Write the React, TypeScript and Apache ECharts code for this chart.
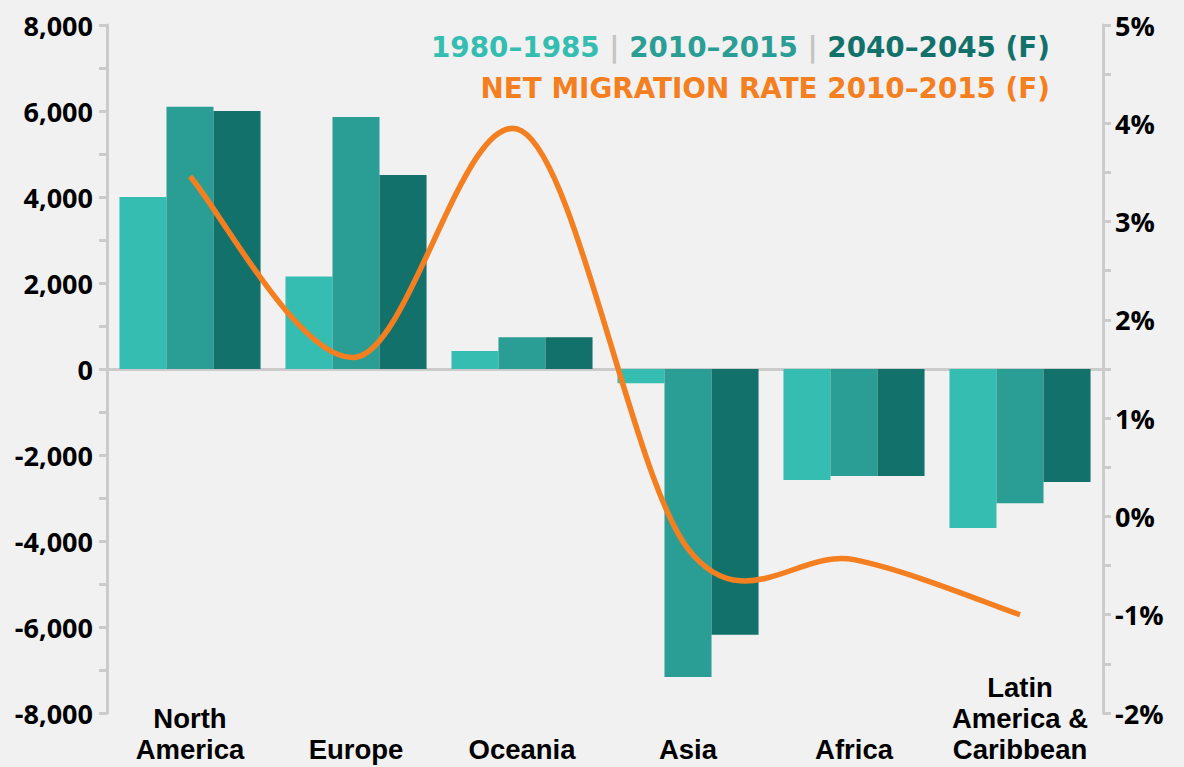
import React, { useEffect, useRef } from "react";
import * as echarts from "echarts";

const categories = ["North\nAmerica", "Europe", "Oceania", "Asia", "Africa", "Latin\nAmerica &\nCaribbean"];
const series1980 = [4000, 2150, 420, -330, -2580, -3700];
const series2010 = [6100, 5860, 740, -7160, -2490, -3120];
const series2040 = [6000, 4510, 740, -6180, -2490, -2630];
const netRate = [3.46, 1.62, 3.92, -0.33, -0.44, -1.0];

const leftTicks = { min: -8000, max: 8000, interval: 2000 };
const rightTicks = { min: -2, max: 5, interval: 1 };

const C1 = "#36BDB1";
const C2 = "#2A9E94";
const C3 = "#12716A";
const ORANGE = "#F47F21";
const AXIS = "#CBCBCB";
const BG = "#F1F1F1";
const FONT = "'Open Sans', Lato, sans-serif";
const CAT_FONT = "'Liberation Sans', Arial, sans-serif";
const LEGEND_FONT = "'DejaVu Sans', 'Open Sans', sans-serif";
const LEGEND_SIZE = 27.8;

export default function App() {
  const ref = useRef<HTMLDivElement>(null);
  useEffect(() => {
    document.body.style.margin = "0";
    document.body.style.background = BG;
    const chart = echarts.init(ref.current!, null, { renderer: "svg" });
    const n = netRate.length;
    const axisLabelStyle = {
      color: "#000",
      fontFamily: FONT,
      fontWeight: "bold",
      fontSize: 27,
    };
    const option: any = {
      animation: false,
      backgroundColor: BG,
      textStyle: { fontFamily: FONT },
      grid: { left: 107, right: 81, top: 25, bottom: 54, containLabel: false },
      xAxis: [
        {
          type: "category",
          data: categories,
          axisLine: { show: true, onZero: true, onZeroAxisIndex: 0, lineStyle: { color: AXIS, width: 3 } },
          axisTick: { show: false },
          axisLabel: { show: false },
          splitLine: { show: false },
        },
        {
          type: "category",
          data: categories,
          position: "bottom",
          axisLine: { show: false, onZero: false },
          axisTick: { show: false },
          splitLine: { show: false },
          axisLabel: {
            color: "#000",
            fontFamily: CAT_FONT,
            fontWeight: "bold",
            fontSize: 27.5,
            show: true,
            interval: 0,
            lineHeight: 31,
            verticalAlign: "bottom",
            margin: 52,
          },
        },
      ],
      yAxis: [
        {
          type: "value",
          min: leftTicks.min,
          max: leftTicks.max,
          interval: leftTicks.interval,
          position: "left",
          axisLine: { show: true, lineStyle: { color: AXIS, width: 3 } },
          axisTick: { show: true, length: 8, lineStyle: { color: AXIS, width: 3 } },
          minorTick: { show: true, splitNumber: 2, length: 8, lineStyle: { color: AXIS, width: 3 } },
          splitLine: { show: false },
          axisLabel: {
            ...axisLabelStyle,
            margin: 14,
            formatter: (v: number) => v.toLocaleString("en-US"),
          },
        },
        {
          type: "value",
          min: rightTicks.min,
          max: rightTicks.max,
          interval: rightTicks.interval,
          position: "right",
          axisLine: { show: true, lineStyle: { color: AXIS, width: 3 } },
          axisTick: { show: true, length: 8, lineStyle: { color: AXIS, width: 3 } },
          minorTick: { show: true, splitNumber: 2, length: 8, lineStyle: { color: AXIS, width: 3 } },
          splitLine: { show: false },
          axisLabel: {
            ...axisLabelStyle,
            margin: 12,
            formatter: (v: number) => v + "%",
          },
        },
      ],
      series: [
        { type: "bar", name: "1980–1985", data: series1980, xAxisIndex: 0, yAxisIndex: 0, barGap: "0%", barCategoryGap: "15%", itemStyle: { color: C1 } },
        { type: "bar", name: "2010–2015", data: series2010, xAxisIndex: 0, yAxisIndex: 0, barGap: "0%", barCategoryGap: "15%", itemStyle: { color: C2 } },
        { type: "bar", name: "2040–2045 (F)", data: series2040, xAxisIndex: 0, yAxisIndex: 0, barGap: "0%", barCategoryGap: "15%", itemStyle: { color: C3 } },
        {
          type: "custom",
          name: "Net migration rate",
          xAxisIndex: 0,
          yAxisIndex: 1,
          data: netRate.map((v, i) => [i, v]),
          encode: { x: 0, y: 1 },
          z: 10,
          renderItem: (params: any, api: any) => {
            if (params.dataIndex !== 0) return { type: "group", children: [] };
            const pt = (k: number) => {
              const j = Math.max(0, Math.min(n - 1, k));
              return api.coord([j, netRate[j]]);
            };
            const p0 = pt(0);
            let d = `M${p0[0]},${p0[1]}`;
            for (let i = 0; i < n - 1; i++) {
              const a = pt(i - 1), b = pt(i), c = pt(i + 1), e = pt(i + 2);
              const c1x = b[0] + (c[0] - a[0]) / 6, c1y = b[1] + (c[1] - a[1]) / 6;
              const c2x = c[0] - (e[0] - b[0]) / 6, c2y = c[1] - (e[1] - b[1]) / 6;
              d += ` C${c1x},${c1y} ${c2x},${c2y} ${c[0]},${c[1]}`;
            }
            return {
              type: "path",
              shape: { pathData: d },
              style: { stroke: ORANGE, lineWidth: 5.5, fill: "none" },
            };
          },
        },
      ],
      graphic: [
        {
          type: "text",
          x: 1050,
          y: 47,
          style: {
            text: "{a|1980–1985} {s||} {b|2010–2015} {s||} {c|2040–2045 (F)}",
            align: "right",
            verticalAlign: "middle",
            font: `bold ${LEGEND_SIZE}px ${LEGEND_FONT}`,
            rich: {
              a: { fill: C1, fontFamily: LEGEND_FONT, fontWeight: "bold", fontSize: LEGEND_SIZE },
              b: { fill: C2, fontFamily: LEGEND_FONT, fontWeight: "bold", fontSize: LEGEND_SIZE },
              c: { fill: C3, fontFamily: LEGEND_FONT, fontWeight: "bold", fontSize: LEGEND_SIZE },
              s: { fill: "#C4C4C4", fontFamily: LEGEND_FONT, fontWeight: "bold", fontSize: LEGEND_SIZE },
            },
          },
        },
        {
          type: "text",
          x: 1050,
          y: 88,
          style: {
            text: "NET MIGRATION RATE 2010–2015 (F)",
            align: "right",
            verticalAlign: "middle",
            fill: ORANGE,
            font: `bold ${LEGEND_SIZE}px ${LEGEND_FONT}`,
          },
        },
      ],
    };
    chart.setOption(option);
    return () => chart.dispose();
  }, []);
  return <div ref={ref} style={{ width: 1184, height: 767 }} />;
}
